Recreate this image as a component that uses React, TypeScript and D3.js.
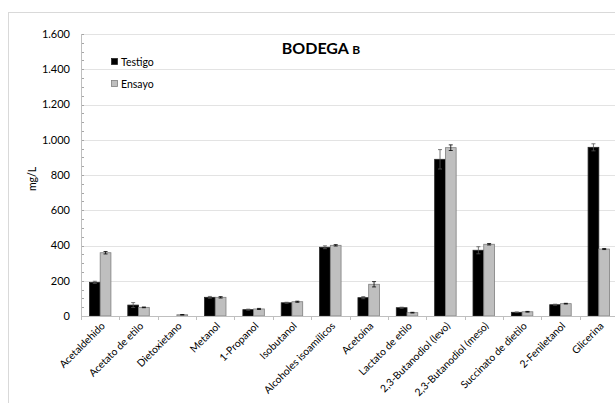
import React from "react";
import * as d3 from "d3";

const categories = [
  "Acetaldehido", "Acetato de etilo", "Dietoxietano", "Metanol", "1-Propanol",
  "Isobutanol", "Alcoholes isoamílicos", "Acetoína", "Lactato de etilo",
  "2,3-Butanodiol (levo)", "2,3-Butanodiol (meso)", "Succinato de dietilo",
  "2-Feniletanol", "Glicerina",
];
const testigo = [191, 62, 0, 106, 36, 75, 390, 104, 47, 889, 373, 21, 64, 957];
const testigoErr = [6, 14, 0, 5, 3, 3, 8, 6, 3, 55, 20, 2, 3, 20];
const ensayo = [359, 49, 7, 106, 40, 81, 401, 180, 19, 955, 407, 24, 70, 380];
const ensayoErr = [7, 2, 1, 4, 3, 3, 4, 15, 2, 16, 4, 2, 2, 3];
const yTicks = [0, 200, 400, 600, 800, 1000, 1200, 1400, 1600];
const yMinor = d3.range(0, 1601, 50);
const series = ["Testigo", "Ensayo"];

const W = 615, H = 403;
const left = 81, right = 618, top = 34, bottom = 316;
const FONT = "Lato, 'Open Sans', sans-serif";

const fmt = (v: number) => {
  const s = String(v);
  return s.length > 3 ? s.slice(0, s.length - 3) + "." + s.slice(-3) : s;
};

export default function App() {
  const x = d3.scaleBand<string>().domain(categories).range([left, right]).paddingInner(0).paddingOuter(0);
  const y = d3.scaleLinear().domain([0, 1600]).range([bottom, top]);
  const gapRatio = 0.44;
  const groupW = x.bandwidth() * (1 - gapRatio);
  const sub = d3.scaleBand<string>().domain(series).range([0, groupW]);
  const fills = ["#000000", "#bfbfbf"];
  const strokes = ["#262626", "#7f7f7f"];
  const vals = [testigo, ensayo];
  const errs = [testigoErr, ensayoErr];

  return (
    <svg width={W} height={H} style={{ position: "absolute", left: 0, top: 0, background: "#fff" }}>
      <rect x={8.5} y={12.5} width={W + 20} height={H + 20} fill="#fff" stroke="#d9d9d9" strokeWidth={1} />
      {yTicks.map((t) => (
        <line key={"g" + t} x1={left} x2={W} y1={Math.round(y(t)) + 0.5} y2={Math.round(y(t)) + 0.5} stroke="#e3e3e3" strokeWidth={1} />
      ))}
      {yMinor.map((t) => (
        <line key={"m" + t} x1={left} x2={left + 3} y1={Math.round(y(t)) + 0.5} y2={Math.round(y(t)) + 0.5} stroke="#a6a6a6" strokeWidth={1} />
      ))}
      {yTicks.map((t) => (
        <text key={"yl" + t} x={70} y={y(t)} dy="0.35em" textAnchor="end" fontFamily={FONT} fontSize={11} fill="#000">
          {fmt(t)}
        </text>
      ))}
      <text transform={`translate(36,${(top + bottom) / 2 + 4}) rotate(-90)`} textAnchor="middle" fontFamily={FONT} fontSize={10.5} fill="#000">
        mg/L
      </text>
      {categories.map((c, i) =>
        vals.map((arr, s) => {
          const bx = (x(c) as number) + (x.bandwidth() - groupW) / 2 + (sub(series[s]) as number);
          const v = arr[i];
          const e = errs[s][i];
          const cx = bx + sub.bandwidth() / 2;
          return (
            <g key={c + s}>
              {v > 0 && (
                <rect x={bx} y={y(v)} width={sub.bandwidth()} height={bottom - y(v)} fill={fills[s]} stroke={strokes[s]} strokeWidth={0.8} />
              )}
              {e > 0 && (
                <g stroke={s === 0 ? "#555" : "#000"} strokeWidth={0.8}>
                  <line x1={cx} x2={cx} y1={y(v + e)} y2={y(v - e)} />
                  <line x1={cx - 2} x2={cx + 2} y1={y(v + e)} y2={y(v + e)} />
                  <line x1={cx - 2} x2={cx + 2} y1={y(v - e)} y2={y(v - e)} />
                </g>
              )}
            </g>
          );
        })
      )}
      <line x1={left + 0.5} x2={left + 0.5} y1={top} y2={bottom} stroke="#bfbfbf" strokeWidth={1} />
      <line x1={left} x2={W} y1={bottom + 0.5} y2={bottom + 0.5} stroke="#bfbfbf" strokeWidth={1} />
      {categories.map((c, i) => (
        <line key={"xt" + i} x1={Math.round(x(c) as number) + 0.5} x2={Math.round(x(c) as number) + 0.5} y1={bottom} y2={bottom + 4} stroke="#bfbfbf" />
      ))}
      {categories.map((c) => {
        const cx = (x(c) as number) + x.bandwidth() / 2;
        return (
          <text key={"xl" + c} transform={`translate(${cx + 3},${bottom + 8}) rotate(-45)`} textAnchor="end" dy="0.35em" fontFamily={FONT} fontSize={10.3} fill="#000">
            {c}
          </text>
        );
      })}
      <text x={321} y={54} textAnchor="middle" fontFamily={FONT} fontWeight="bold" fontSize={16} fill="#000">
        BODEGA <tspan fontSize={12}>B</tspan>
      </text>
      {series.map((s, i) => (
        <g key={"lg" + s}>
          <rect x={111.5} y={58.5 + i * 22} width={6} height={6} fill={fills[i]} stroke={strokes[i]} strokeWidth={0.8} />
          <text x={121} y={62 + i * 22} dy="0.35em" fontFamily={FONT} fontSize={10.5} fill="#000">
            {s}
          </text>
        </g>
      ))}
    </svg>
  );
}
